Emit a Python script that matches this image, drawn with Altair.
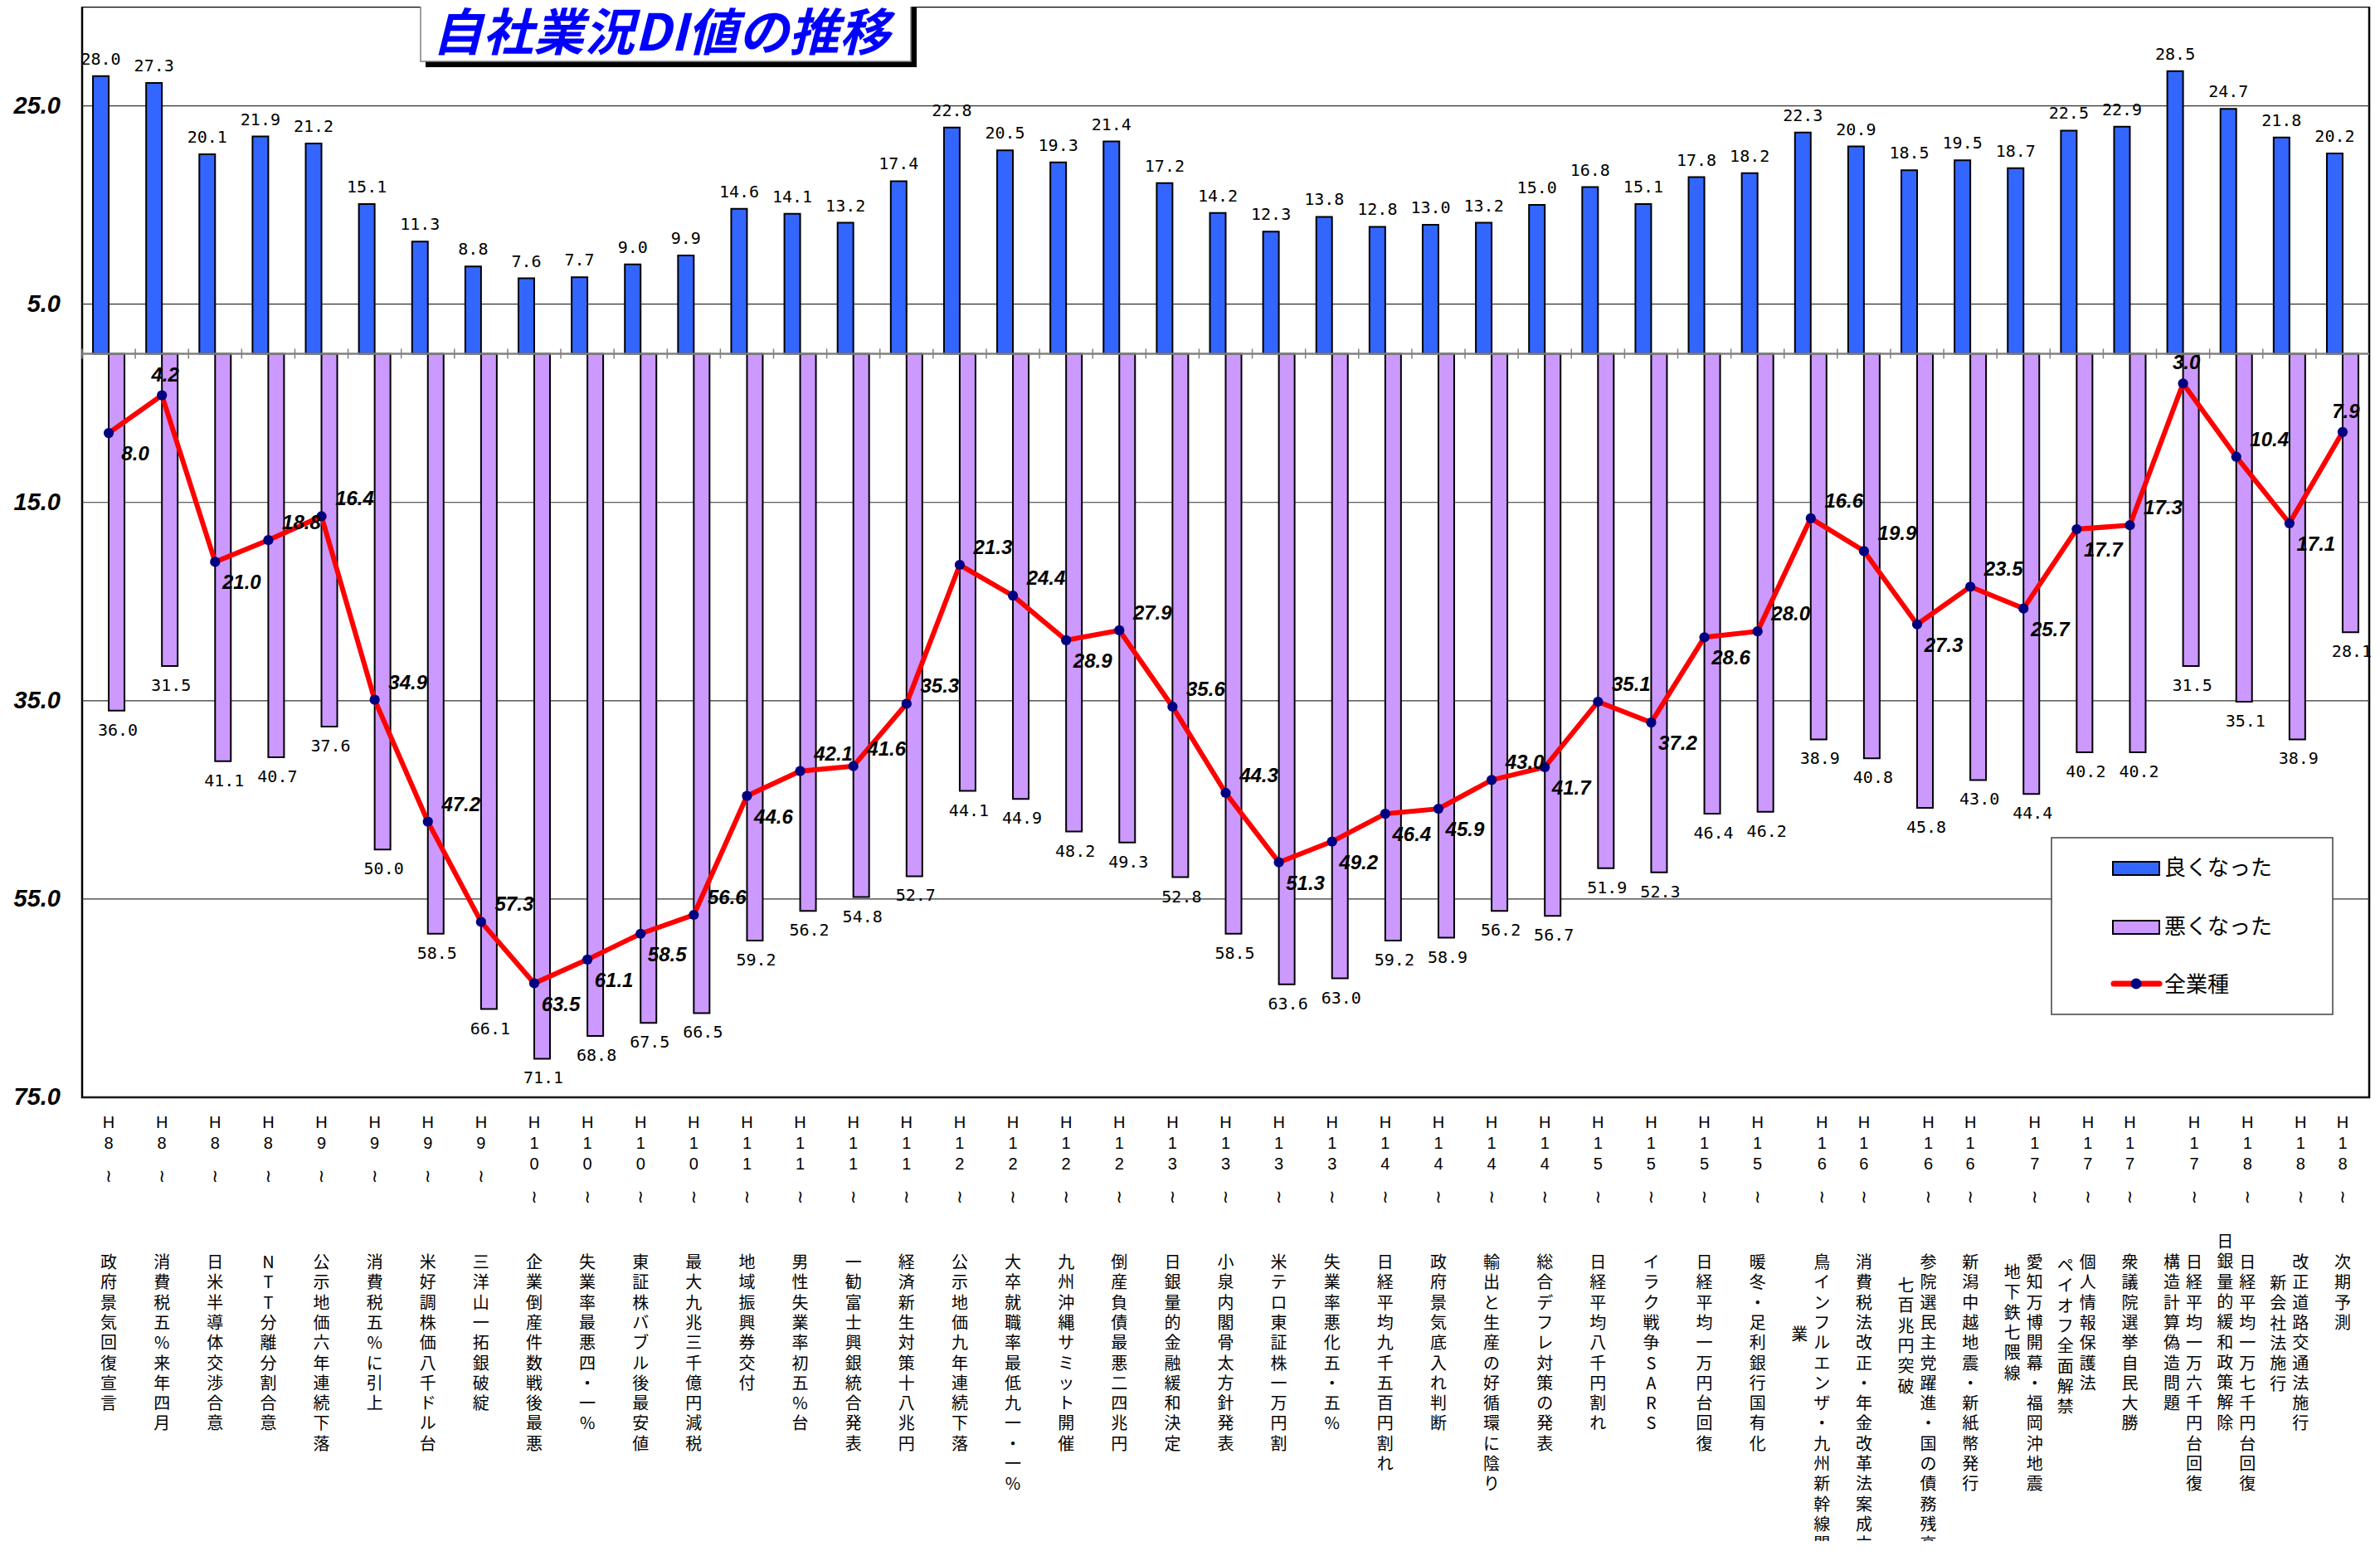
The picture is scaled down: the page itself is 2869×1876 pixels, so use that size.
import altair as alt
import pandas as pd

# ---------------- data ----------------
periods = ["H8", "H8", "H8", "H8", "H9", "H9", "H9", "H9",
           "H10", "H10", "H10", "H10", "H11", "H11", "H11", "H11",
           "H12", "H12", "H12", "H12", "H13", "H13", "H13", "H13",
           "H14", "H14", "H14", "H14", "H15", "H15", "H15", "H15",
           "H16", "H16", "H16", "H16", "H17", "H17", "H17", "H17",
           "H18", "H18", "H18"]

events = ["政府景気回復宣言", "消費税五%来年四月", "日米半導体交渉合意", "NTT分離分割合意",
          "公示地価六年連続下落", "消費税五%に引上", "米好調株価八千ドル台", "三洋山一拓銀破綻",
          "企業倒産件数戦後最悪", "失業率最悪四・一%", "東証株バブル後最安値", "最大九兆三千億円減税",
          "地域振興券交付", "男性失業率初五%台", "一勧富士興銀統合発表", "経済新生対策十八兆円",
          "公示地価九年連続下落", "大卒就職率最低九一・一%", "九州沖縄サミット開催", "倒産負債最悪二四兆円",
          "日銀量的金融緩和決定", "小泉内閣骨太方針発表", "米テロ東証株一万円割", "失業率悪化五・五%",
          "日経平均九千五百円割れ", "政府景気底入れ判断", "輸出と生産の好循環に陰り", "総合デフレ対策の発表",
          "日経平均八千円割れ", "イラク戦争SARS", "日経平均一万円台回復", "暖冬・足利銀行国有化",
          ("鳥インフルエンザ・九州新幹線開", "業"), "消費税法改正・年金改革法案成立",
          ("参院選民主党躍進・国の債務残高", "七百兆円突破"), "新潟中越地震・新紙幣発行",
          ("愛知万博開幕・福岡沖地震", "地下鉄七隈線"), ("個人情報保護法", "ペイオフ全面解禁"),
          "衆議院選挙自民大勝", ("日経平均一万六千円台回復", "構造計算偽造問題"),
          ("日経平均一万七千円台回復", "日銀量的緩和政策解除"), ("改正道路交通法施行", "新会社法施行"),
          "次期予測"]

good = [28.0, 27.3, 20.1, 21.9, 21.2, 15.1, 11.3, 8.8, 7.6, 7.7, 9.0, 9.9,
        14.6, 14.1, 13.2, 17.4, 22.8, 20.5, 19.3, 21.4, 17.2, 14.2, 12.3, 13.8,
        12.8, 13.0, 13.2, 15.0, 16.8, 15.1, 17.8, 18.2, 22.3, 20.9, 18.5, 19.5,
        18.7, 22.5, 22.9, 28.5, 24.7, 21.8, 20.2]

bad = [36.0, 31.5, 41.1, 40.7, 37.6, 50.0, 58.5, 66.1, 71.1, 68.8, 67.5, 66.5,
       59.2, 56.2, 54.8, 52.7, 44.1, 44.9, 48.2, 49.3, 52.8, 58.5, 63.6, 63.0,
       59.2, 58.9, 56.2, 56.7, 51.9, 52.3, 46.4, 46.2, 38.9, 40.8, 45.8, 43.0,
       44.4, 40.2, 40.2, 31.5, 35.1, 38.9, 28.1]

di = [-8.0, -4.2, -21.0, -18.8, -16.4, -34.9, -47.2, -57.3, -63.5, -61.1, -58.5, -56.6,
      -44.6, -42.1, -41.6, -35.3, -21.3, -24.4, -28.9, -27.9, -35.6, -44.3, -51.3, -49.2,
      -46.4, -45.9, -43.0, -41.7, -35.1, -37.2, -28.6, -28.0, -16.6, -19.9, -27.3, -23.5,
      -25.7, -17.7, -17.3, -3.0, -10.4, -17.1, -7.9]

yticks = [25, 5, -15, -35, -55, -75]

# label placement of the 全業種 values: u = upper right, d = lower right, c = above
di_place = ["d", "c", "d", "u", "u", "u", "u", "u", "d", "d", "d", "u",
            "d", "u", "u", "u", "u", "u", "d", "u", "u", "u", "d", "d",
            "d", "d", "u", "d", "u", "d", "d", "u", "u", "u", "d", "u",
            "d", "d", "u", "c", "u", "d", "c"]

# vertical start shift (px) of the second text column, for two-column labels
second_col_shift = {33: 87, 35: 28, 37: 12, 38: 4, 40: 0, 41: -25, 42: 25}

# ---------------- layout ----------------
W, H = 2757, 1315
N = len(good)
BAND = W / N
FONT_JP = "Noto Sans CJK JP"

df = pd.DataFrame({"idx": list(range(1, N + 1)), "good": good, "bad": bad,
                   "di": di, "place": di_place})
one = pd.DataFrame({"a": [0]})
tick_df = pd.DataFrame({"v": yticks})

X = alt.X("idx:O", axis=None,
          scale=alt.Scale(domain=list(range(1, N + 1)), paddingInner=0, paddingOuter=0))
YS = alt.Scale(domain=[-75, 35], nice=False, zero=False)


def Y(field):
    return alt.Y(field, scale=YS, axis=None)


base = alt.Chart(df).transform_calculate(
    negbad="-datum.bad",
    glab="format(datum.good, '.1f')",
    blab="format(datum.bad, '.1f')",
    dlab="format(abs(datum.di), '.1f')",
)

# y axis drawn as rules + texts through the y scale
grid = alt.Chart(tick_df).mark_rule(color="#333333", strokeWidth=1.2).encode(
    y=Y("v:Q"), x=alt.value(0), x2=alt.value(W))
ylabels = alt.Chart(tick_df).transform_calculate(
    t="format(abs(datum.v), '.1f')"
).mark_text(font="Liberation Sans", fontSize=29, fontWeight="bold", fontStyle="italic",
            align="right", baseline="middle", color="#000000").encode(
    y=Y("v:Q"), x=alt.value(-26), text="t:N")

blue = base.mark_bar(width=19, xOffset=-9.5, fill="#3366FF", stroke="#000000",
                     strokeWidth=2).encode(x=X, y=Y("good:Q"), y2=alt.datum(0))

purple = base.mark_bar(width=19, xOffset=9.5, fill="#CC99FF", stroke="#000000",
                       strokeWidth=2).encode(x=X, y=Y("negbad:Q"), y2=alt.datum(0))

zero = alt.Chart(one).mark_rule(color="#808080", strokeWidth=2.5).encode(
    y=alt.Y(datum=0, scale=YS, axis=None), x=alt.value(0), x2=alt.value(W))

zticks = base.mark_rule(color="#808080", strokeWidth=1.5, xOffset=-BAND / 2).encode(
    x=X, y=alt.Y(datum=0.5, scale=YS, axis=None), y2=alt.datum(-0.5))

line = base.mark_line(color="#FF0000", strokeWidth=6).encode(x=X, y=Y("di:Q"))
pts = base.mark_point(filled=True, shape="circle", size=150, color="#000080",
                      opacity=1).encode(x=X, y=Y("di:Q"))

place_off = {"u": (40, -20), "d": (32, 26), "c": (4, -24)}
dlayers = []
for code, (ddx, ddy) in place_off.items():
    dlayers.append(
        base.transform_filter(alt.datum.place == code).mark_text(
            font="Liberation Sans", fontSize=24, fontWeight="bold", fontStyle="italic",
            align="center", baseline="middle", dx=ddx, dy=ddy, color="#000000").encode(
            x=X, y=Y("di:Q"), text="dlab:N"))

glabels = base.mark_text(font="DejaVu Sans Mono", fontSize=20, align="center",
                         baseline="alphabetic", dx=-9.5, dy=-14, color="#000000").encode(
    x=X, y=Y("good:Q"), text="glab:N")

blabels = base.mark_text(font="DejaVu Sans Mono", fontSize=20, align="center",
                         baseline="top", dx=11, dy=14, color="#000000").encode(
    x=X, y=Y("negbad:Q"), text="blab:N")

# ---------------- category labels (stacked vertical text) ----------------
rows = []
for i, (p, ev) in enumerate(zip(periods, events), start=1):
    cols = ev if isinstance(ev, tuple) else (ev,)
    sh = "r" if len(cols) == 2 else "c"
    digits = p[1:]
    rows.append(dict(idx=i, grp="head", sh=sh, text="\n".join("H" + digits), ypix=H + 21))
    rows.append(dict(idx=i, grp="tilde", sh=sh, text="≀",
                     ypix=H + 96 + 25 * (len(digits) - 1)))
    rows.append(dict(idx=i, grp="event", sh=sh, text="\n".join(cols[0]), ypix=H + 190))
    if len(cols) == 2:
        rows.append(dict(idx=i, grp="event", sh="l", text="\n".join(cols[1]),
                         ypix=H + 190 + second_col_shift.get(i, 0)))
lab = pd.DataFrame(rows)

dxmap = {"c": 0, "r": 13.5, "l": -13.5}
label_layers = []
for grp in ["head", "tilde", "event"]:
    for sh in ["c", "r", "l"]:
        sub = lab[(lab.grp == grp) & (lab.sh == sh)]
        if len(sub) == 0:
            continue
        if grp == "head":
            mk = alt.Chart(sub).mark_text(font="Liberation Sans", fontSize=20, lineBreak="\n",
                                          lineHeight=25, align="center", baseline="top",
                                          dx=dxmap[sh], color="#000000")
        elif grp == "tilde":
            mk = alt.Chart(sub).mark_text(font="DejaVu Sans", fontSize=21,
                                          align="center", baseline="middle",
                                          dx=dxmap[sh], color="#000000")
        else:
            mk = alt.Chart(sub).mark_text(font=FONT_JP, fontSize=20, lineBreak="\n",
                                          lineHeight=24.3, align="center", baseline="top",
                                          dx=dxmap[sh], color="#000000")
        label_layers.append(mk.encode(x=X, y=alt.Y("ypix:Q", scale=None, axis=None),
                                      text="text:N"))

# ---------------- legend (drawn) ----------------
LX0, LX1, LY0, LY1 = 2374, 2713, 1002, 1215
leg = [
    alt.Chart(one).mark_rect(fill="#FFFFFF", stroke="#404040", strokeWidth=1.5).encode(
        x=alt.value(LX0), x2=alt.value(LX1), y=alt.value(LY0), y2=alt.value(LY1)),
    alt.Chart(one).mark_rect(fill="#3366FF", stroke="#000000", strokeWidth=2).encode(
        x=alt.value(LX0 + 74), x2=alt.value(LX0 + 130), y=alt.value(LY0 + 29), y2=alt.value(LY0 + 45)),
    alt.Chart(one).mark_rect(fill="#CC99FF", stroke="#000000", strokeWidth=2).encode(
        x=alt.value(LX0 + 74), x2=alt.value(LX0 + 130), y=alt.value(LY0 + 100), y2=alt.value(LY0 + 116)),
    alt.Chart(one).mark_rule(color="#FF0000", strokeWidth=7, strokeCap="round").encode(
        x=alt.value(LX0 + 75), x2=alt.value(LX0 + 130), y=alt.value(LY0 + 176)),
    alt.Chart(one).mark_point(filled=True, shape="circle", size=170, color="#000080",
                              opacity=1).encode(
        x=alt.value(LX0 + 102), y=alt.value(LY0 + 176)),
]
for txt, yy in [("良くなった", 37), ("悪くなった", 108), ("全業種", 178)]:
    leg.append(alt.Chart(one).mark_text(font=FONT_JP, fontSize=26, align="left",
                                        baseline="middle", color="#000000", text=txt).encode(
        x=alt.value(LX0 + 136), y=alt.value(LY0 + yy)))

# ---------------- title box ----------------
title = [
    alt.Chart(one).mark_rect(fill="#000000").encode(
        x=alt.value(414), x2=alt.value(1006), y=alt.value(-20), y2=alt.value(73)),
    alt.Chart(one).mark_rect(fill="#FFFFFF", stroke="#808080", strokeWidth=1.5).encode(
        x=alt.value(408), x2=alt.value(999), y=alt.value(-20), y2=alt.value(66)),
    alt.Chart(one).mark_text(font=FONT_JP, fontSize=61, fontWeight="bold", fontStyle="italic",
                             align="left", baseline="alphabetic", color="#0000FF",
                             text="自社業況DI値の推移").encode(
        x=alt.value(422), y=alt.value(53)),
]

chart = alt.layer(
    grid, ylabels, blue, purple, zero, zticks, line, pts, *dlayers, glabels, blabels,
    *label_layers, *leg, *title
).properties(
    width=W, height=H,
    padding={"left": 91, "top": 0, "right": 5, "bottom": 535},
    autosize=alt.AutoSizeParams(type="none"),
    background="#FFFFFF",
).configure_view(stroke="#000000", strokeWidth=2.5)

chart.save("out.html", embed_options={"renderer": "svg", "actions": False})
